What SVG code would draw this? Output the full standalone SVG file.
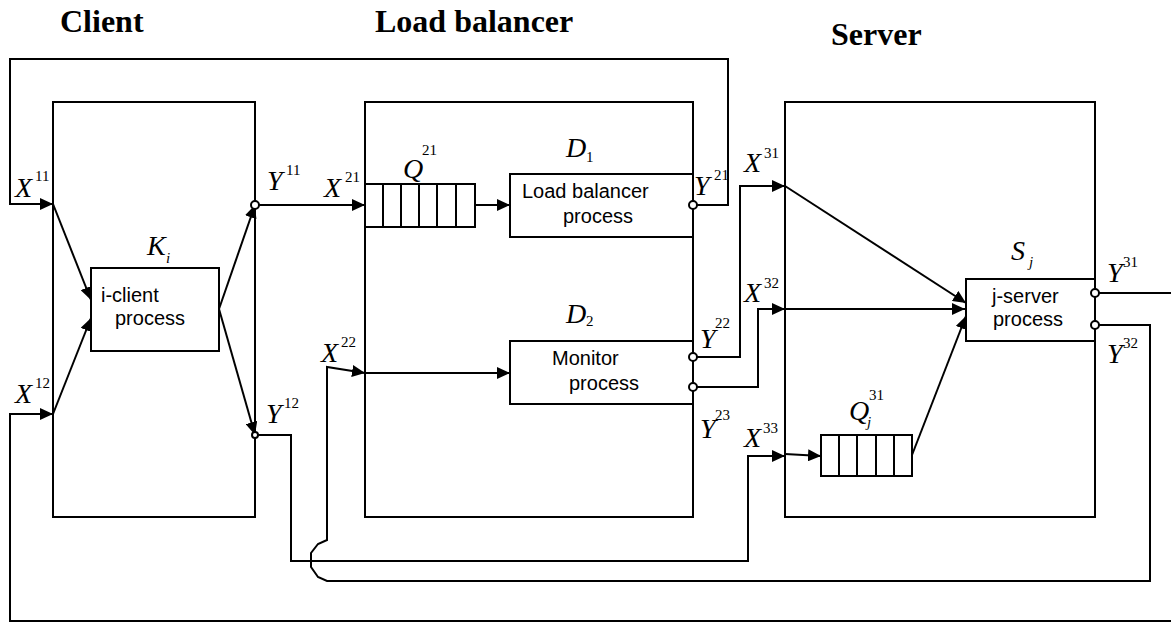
<svg xmlns="http://www.w3.org/2000/svg" width="1171" height="622" viewBox="0 0 1171 622">
<style>
.box{fill:none;stroke:#000;stroke-width:2}
.proc{fill:#fff;stroke:#000;stroke-width:2}
.ln{fill:none;stroke:#000;stroke-width:2}
.arr{fill:none;stroke:#000;stroke-width:2;marker-end:url(#ah)}
.port{fill:#fff;stroke:#000;stroke-width:2}
.h{font-family:'Liberation Serif','DejaVu Serif',serif;font-weight:bold;font-size:32px}
.v{font-family:'Liberation Serif','DejaVu Serif',serif;font-style:italic;font-size:28px}
.s{font-family:'Liberation Serif','DejaVu Serif',serif;font-size:15px}
.t{font-family:'Liberation Sans',Arial,sans-serif;font-size:20px}
</style>
<defs>
<marker id="ah" markerUnits="userSpaceOnUse" markerWidth="14" markerHeight="12" refX="13" refY="6" orient="auto">
<path d="M0,0 L13,6 L0,12 z" fill="#000"/>
</marker>
</defs>
<rect width="1171" height="622" fill="#fff"/>

<g id="titles">
<text class="h" x="60" y="32">Client</text>
<text class="h" x="375" y="32">Load balancer</text>
<text class="h" x="831" y="45">Server</text>
</g>

<g id="client">
<rect class="box" x="53" y="102" width="202" height="415"/>
<text class="v" x="147" y="255">K</text><text class="s" x="166" y="263" font-style="italic">i</text>
</g>
<g id="i-client-process">
<rect class="proc" x="91" y="268" width="128" height="83"/>
<text class="t" x="101" y="302">i-client</text>
<text class="t" x="115" y="325">process</text>
</g>

<g id="load-balancer">
<rect class="box" x="365" y="102" width="328" height="415"/>
<text class="v" x="566" y="157">D</text><text class="s" x="586" y="162">1</text>
<text class="v" x="566" y="323">D</text><text class="s" x="586" y="326">2</text>
</g>
<g id="queue-q21">
<rect class="proc" x="365" y="184" width="110" height="43"/>
<path class="ln" d="M383,184V227M401,184V227M419,184V227M437,184V227M456,184V227"/>
<text class="v" x="403" y="178">Q</text><text class="s" x="422" y="155">21</text>
</g>
<g id="lb-process">
<rect class="proc" x="510" y="174" width="183" height="63"/>
<text class="t" x="522" y="198">Load balancer</text>
<text class="t" x="563" y="223">process</text>
</g>
<g id="monitor-process">
<rect class="proc" x="510" y="341" width="183" height="63"/>
<text class="t" x="552" y="365">Monitor</text>
<text class="t" x="569" y="390">process</text>
</g>

<g id="server">
<rect class="box" x="785" y="102" width="310" height="415"/>
<text class="v" x="1011" y="260">S</text><text class="s" x="1029" y="267" font-style="italic">j</text>
</g>
<g id="j-server-process">
<rect class="proc" x="966" y="279" width="129" height="62"/>
<text class="t" x="992" y="303">j-server</text>
<text class="t" x="993" y="326">process</text>
</g>
<g id="queue-q31">
<rect class="proc" x="821" y="435" width="91" height="41"/>
<path class="ln" d="M839,435V476M857,435V476M876,435V476M894,435V476"/>
<text class="v" x="849" y="420">Q</text><text class="s" x="867" y="427" font-style="italic">j</text><text class="s" x="869" y="400">31</text>
</g>

<g id="connectors">
<path class="arr" d="M693,205H728V59H10V204H53"/>
<path class="arr" d="M255,205H365"/>
<path class="arr" d="M475,205H510"/>
<path class="arr" d="M255,435H291V561H748V456H785"/>
<path class="arr" d="M785,454L821,456"/>
<path class="arr" d="M693,357H740V186H785"/>
<path class="arr" d="M693,387H758V309H785"/>
<path class="arr" d="M785,186L966,303"/>
<path class="arr" d="M785,309H965"/>
<path class="arr" d="M912,455L966,316"/>
<path class="arr" d="M1095,325H1150V581H327L318,577L311,567V553L318,544L327,540V367L365,373"/>
<path class="arr" d="M365,373H510"/>
<path class="arr" d="M1095,293H1180V621H10V414H53"/>
<path class="arr" d="M53,204L91,300"/>
<path class="arr" d="M53,414L91,318"/>
<path class="arr" d="M219,309L255,205"/>
<path class="arr" d="M219,309L255,435"/>
</g>

<g id="ports">
<circle class="port" cx="255" cy="205" r="4"/>
<circle class="port" cx="255" cy="435" r="3"/>
<circle class="port" cx="693" cy="205" r="4"/>
<circle class="port" cx="693" cy="357" r="4"/>
<circle class="port" cx="693" cy="387" r="4"/>
<circle class="port" cx="1095" cy="293" r="4"/>
<circle class="port" cx="1095" cy="325" r="4"/>
</g>

<g id="labels">
<text class="v" x="15" y="197">X</text><text class="s" x="35" y="181">11</text>
<text class="v" x="267" y="190">Y</text><text class="s" x="286" y="175">11</text>
<text class="v" x="15" y="403">X</text><text class="s" x="35" y="388">12</text>
<text class="v" x="266" y="423">Y</text><text class="s" x="284" y="408">12</text>
<text class="v" x="324" y="197">X</text><text class="s" x="345" y="182">21</text>
<text class="v" x="694" y="195">Y</text><text class="s" x="714" y="180">21</text>
<text class="v" x="321" y="362">X</text><text class="s" x="341" y="347">22</text>
<text class="v" x="700" y="348">Y</text><text class="s" x="715" y="328">22</text>
<text class="v" x="700" y="438">Y</text><text class="s" x="715" y="420">23</text>
<text class="v" x="744" y="172">X</text><text class="s" x="764" y="158">31</text>
<text class="v" x="744" y="302">X</text><text class="s" x="764" y="288">32</text>
<text class="v" x="744" y="447">X</text><text class="s" x="763" y="433">33</text>
<text class="v" x="1107" y="282">Y</text><text class="s" x="1123" y="267">31</text>
<text class="v" x="1107" y="363">Y</text><text class="s" x="1123" y="348">32</text>
</g>
</svg>
